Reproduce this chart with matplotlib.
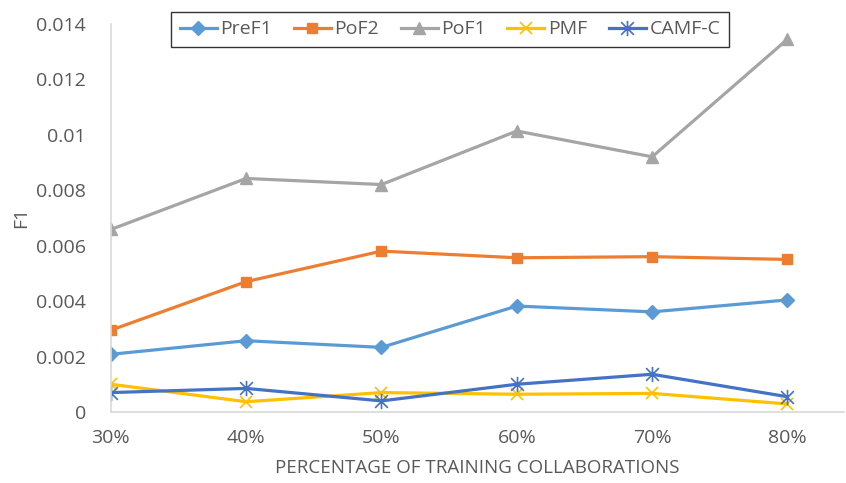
import matplotlib
matplotlib.use("Agg")
import matplotlib.pyplot as plt
from matplotlib.path import Path

categories = ["30%", "40%", "50%", "60%", "70%", "80%"]
pref1 = [0.00208, 0.00257, 0.00233, 0.00382, 0.00361, 0.00404]
pof2 = [0.00295, 0.00470, 0.00580, 0.00556, 0.00560, 0.00550]
pof1 = [0.00658, 0.00842, 0.00820, 0.01013, 0.00920, 0.01344]
pmf = [0.00100, 0.00037, 0.00070, 0.00064, 0.00067, 0.00029]
camf_c = [0.00070, 0.00085, 0.00040, 0.00100, 0.00136, 0.00055]
yticks = [0, 0.002, 0.004, 0.006, 0.008, 0.01, 0.012, 0.014]

plt.rcParams['font.family'] = ['Open Sans', 'DejaVu Sans']

# asterisk marker: an x with a vertical stroke through it
star = Path(
    [(-0.5, -0.5), (0.5, 0.5), (-0.5, 0.5), (0.5, -0.5), (0, -0.6), (0, 0.6)],
    [Path.MOVETO, Path.LINETO, Path.MOVETO, Path.LINETO, Path.MOVETO, Path.LINETO],
)

fig = plt.figure(figsize=(8.46, 4.83), dpi=100)
ax = fig.add_axes([0.131, 0.147, 0.867, 0.804])

x = list(range(len(categories)))
series = [
    ("PreF1", pref1, "#5B9BD5", "D", 7),
    ("PoF2", pof2, "#ED7D31", "s", 7.5),
    ("PoF1", pof1, "#A5A5A5", "^", 8),
    ("PMF", pmf, "#FFC000", "x", 8),
    ("CAMF-C", camf_c, "#4472C4", star, 11),
]
for name, vals, color, marker, ms in series:
    if marker in ("x",) or marker is star:
        ax.plot(x, vals, color=color, lw=2.3, marker=marker, ms=ms,
                mew=1.2, mec=color, mfc="none", label=name)
    else:
        ax.plot(x, vals, color=color, lw=2.3, marker=marker, ms=ms,
                mec=color, mfc=color, label=name)

ax.set_xlim(0, 5.42)
ax.set_ylim(0, 0.014)
ax.set_xticks(x)
ax.set_xticklabels(categories)
ax.set_yticks(yticks)
ax.set_yticklabels([f"{v:g}" for v in yticks])
ax.tick_params(axis="both", length=0, labelsize=14, colors="#595959")
ax.tick_params(axis="x", pad=12)
ax.tick_params(axis="y", pad=18)

for side in ("top", "right"):
    ax.spines[side].set_visible(False)
for side in ("left", "bottom"):
    ax.spines[side].set_color("#D9D9D9")
    ax.spines[side].set_linewidth(1.2)

ax.set_xlabel("PERCENTAGE OF TRAINING COLLABORATIONS", fontsize=13.5,
              color="#595959", labelpad=9)
ax.set_ylabel("F1", fontsize=14, color="#595959", labelpad=4)

leg = fig.legend(loc="upper center", bbox_to_anchor=(0.532, 0.976), ncol=5,
                 fontsize=14, frameon=True, fancybox=False, edgecolor="black",
                 handlelength=1.9, columnspacing=1.1, handletextpad=0.2,
                 borderpad=0.45, borderaxespad=0, labelcolor="#595959")
leg.get_frame().set_linewidth(1.0)

fig.savefig("out.png", dpi=100)
